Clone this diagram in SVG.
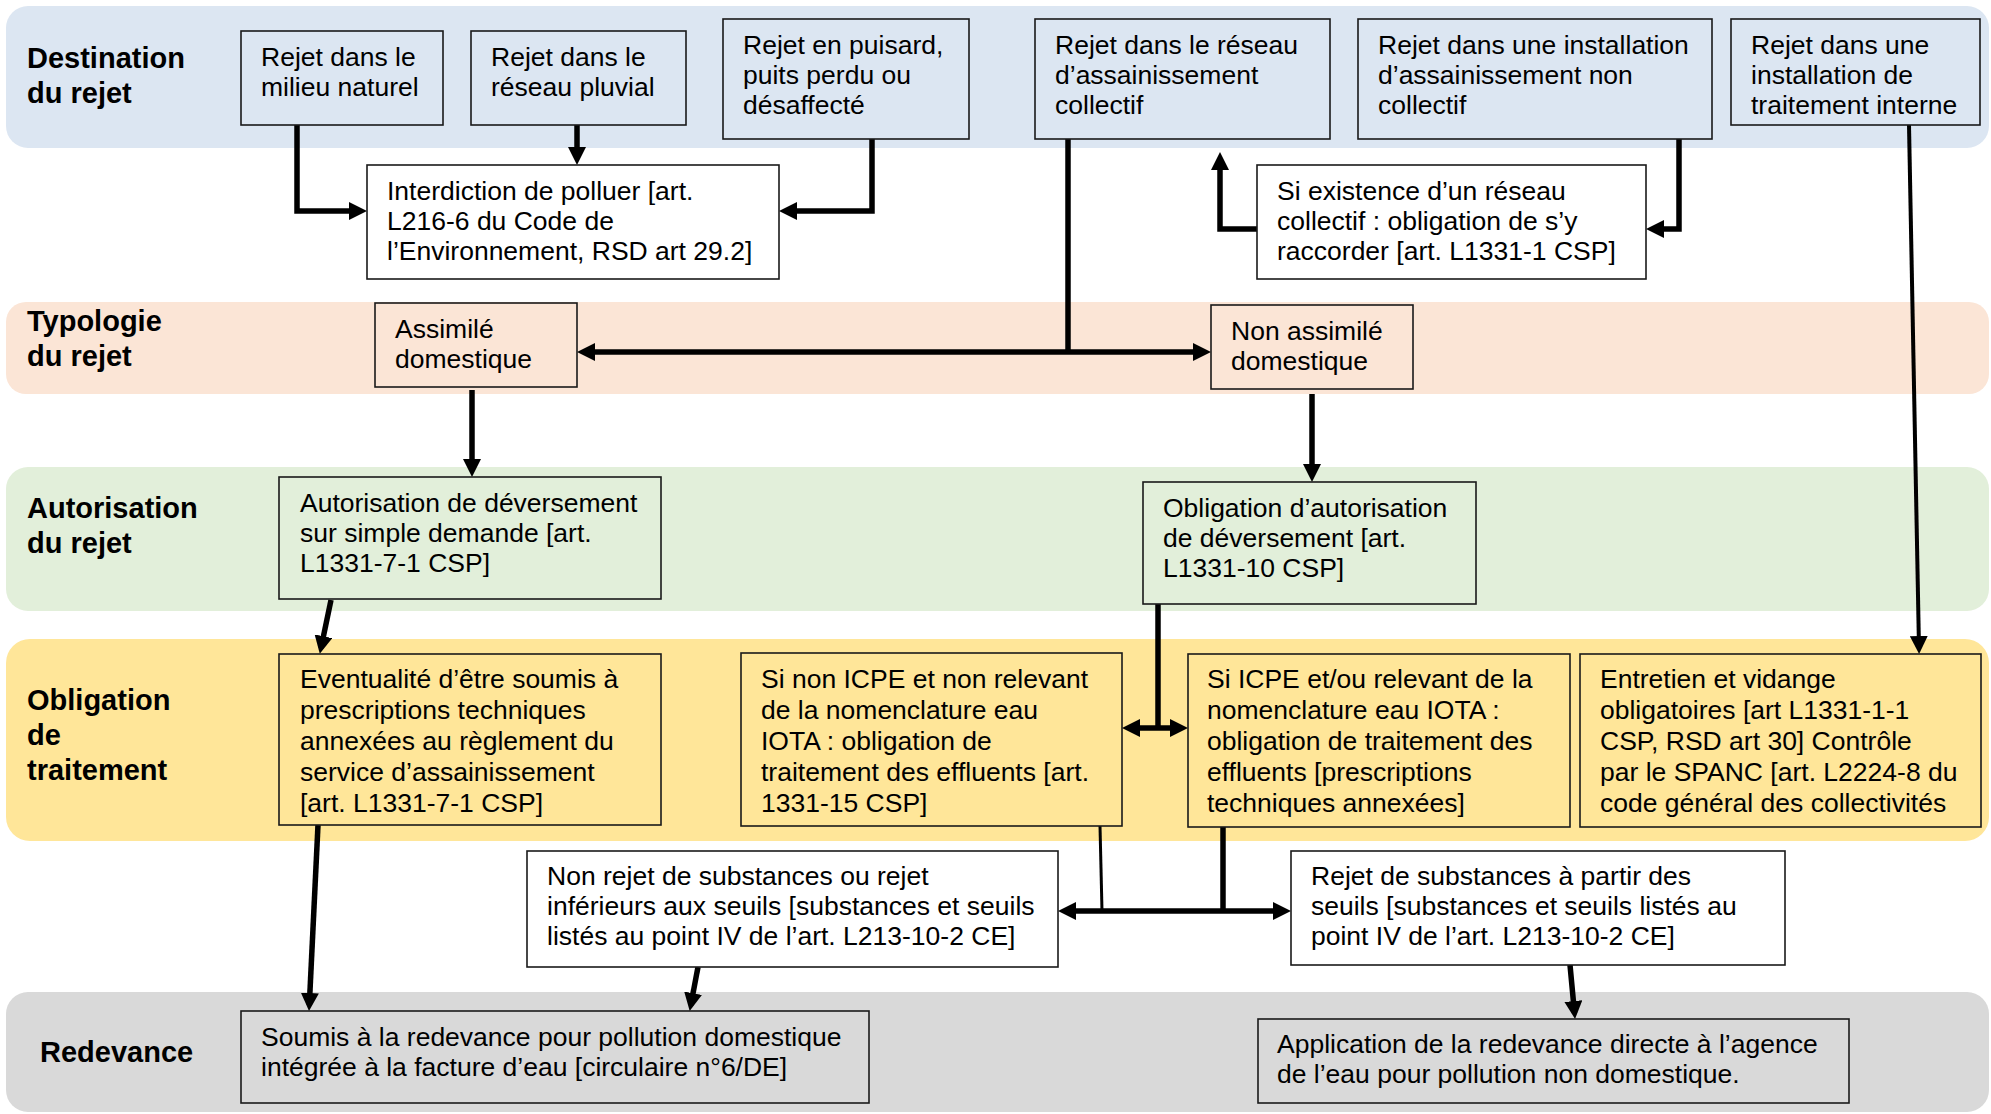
<svg xmlns="http://www.w3.org/2000/svg" width="1991" height="1114" viewBox="0 0 1991 1114">
<defs>
<marker id="ah" markerUnits="userSpaceOnUse" markerWidth="18" markerHeight="18" refX="12" refY="9" orient="auto-start-reverse" viewBox="0 0 18 18">
<path d="M0,0 L18,9 L0,18 z" fill="#000"/>
</marker>
<style>
.band{stroke:none}
.lbl{font-family:"Liberation Sans",Arial,sans-serif;font-weight:bold;font-size:29px;fill:#000}
.txt{font-family:"Liberation Sans",Arial,sans-serif;font-size:26.5px;fill:#000}
.box{stroke:#1a1a1a;stroke-width:1.6}
.blue{fill:#dce6f2}.salmon{fill:#fbe5d6}.green{fill:#e2efda}.yellow{fill:#ffe699}.grey{fill:#d9d9d9}.white{fill:#ffffff}
.c{fill:none;stroke:#000;stroke-width:5.5}
.c2{fill:none;stroke:#000;stroke-width:4}
.c3{fill:none;stroke:#000;stroke-width:3}
.arr{marker-end:url(#ah)}
.arr2{marker-start:url(#ah);marker-end:url(#ah)}
</style>
</defs>
<g id="bands">
<rect class="band blue" x="6" y="6" width="1983" height="142" rx="22"/>
<rect class="band salmon" x="6" y="302" width="1983" height="92" rx="20"/>
<rect class="band green" x="6" y="467" width="1983" height="144" rx="22"/>
<rect class="band yellow" x="6" y="639" width="1983" height="202" rx="24"/>
<rect class="band grey" x="6" y="992" width="1983" height="120" rx="22"/>
</g>
<g id="lane-labels">
<text class="lbl" x="27" y="68">Destination</text>
<text class="lbl" x="27" y="103">du rejet</text>
<text class="lbl" x="27" y="331">Typologie</text>
<text class="lbl" x="27" y="366">du rejet</text>
<text class="lbl" x="27" y="518">Autorisation</text>
<text class="lbl" x="27" y="553">du rejet</text>
<text class="lbl" x="27" y="710">Obligation</text>
<text class="lbl" x="27" y="745">de</text>
<text class="lbl" x="27" y="780">traitement</text>
<text class="lbl" x="40" y="1062">Redevance</text>
</g>
<g id="connectors">
<path class="c arr" d="M297,125 V211 H361"/>
<path class="c arr" d="M577,125 V159"/>
<path class="c arr" d="M872,139 V211 H785"/>
<path class="c arr" d="M1257,229 H1220 V158"/>
<path class="c arr" d="M1679,139 V229 H1652"/>
<path class="c" d="M1068,139 V352"/>
<path class="c arr2" d="M583,352 H1205"/>
<path class="c arr" d="M472,390 V471"/>
<path class="c arr" d="M1312,394 V476"/>
<path class="c arr" d="M331,600 L321,648"/>
<path class="c" d="M1158,604 V728"/>
<path class="c arr2" d="M1128,728 H1182"/>
<path class="c2 arr" d="M1909,125 L1919,648"/>
<path class="c arr" d="M318,825 L309.3,1005"/>
<path class="c3" d="M1100,826 L1102,911"/>
<path class="c" d="M1223,827 V911"/>
<path class="c arr2" d="M1064,911 H1285"/>
<path class="c arr" d="M698,967 L690.8,1005"/>
<path class="c arr" d="M1570,965 L1574.5,1013"/>
</g>
<g id="n-milieu">
<rect class="box blue" x="241" y="31" width="202" height="94"/>
<text class="txt" x="261" y="66">Rejet dans le</text>
<text class="txt" x="261" y="96">milieu naturel</text>
</g>
<g id="n-pluvial">
<rect class="box blue" x="471" y="31" width="215" height="94"/>
<text class="txt" x="491" y="66">Rejet dans le</text>
<text class="txt" x="491" y="96">réseau pluvial</text>
</g>
<g id="n-puisard">
<rect class="box blue" x="723" y="19" width="246" height="120"/>
<text class="txt" x="743" y="54">Rejet en puisard,</text>
<text class="txt" x="743" y="84">puits perdu ou</text>
<text class="txt" x="743" y="114">désaffecté</text>
</g>
<g id="n-collectif">
<rect class="box blue" x="1035" y="19" width="295" height="120"/>
<text class="txt" x="1055" y="54">Rejet dans le réseau</text>
<text class="txt" x="1055" y="84">d’assainissement</text>
<text class="txt" x="1055" y="114">collectif</text>
</g>
<g id="n-noncollectif">
<rect class="box blue" x="1358" y="19" width="354" height="120"/>
<text class="txt" x="1378" y="54">Rejet dans une installation</text>
<text class="txt" x="1378" y="84">d’assainissement non</text>
<text class="txt" x="1378" y="114">collectif</text>
</g>
<g id="n-interne">
<rect class="box blue" x="1731" y="19" width="249" height="106"/>
<text class="txt" x="1751" y="54">Rejet dans une</text>
<text class="txt" x="1751" y="84">installation de</text>
<text class="txt" x="1751" y="114">traitement interne</text>
</g>
<g id="n-interdiction">
<rect class="box white" x="367" y="165" width="412" height="114"/>
<text class="txt" x="387" y="200">Interdiction de polluer [art.</text>
<text class="txt" x="387" y="230">L216-6 du Code de</text>
<text class="txt" x="387" y="260">l’Environnement, RSD art 29.2]</text>
</g>
<g id="n-raccorder">
<rect class="box white" x="1257" y="165" width="389" height="114"/>
<text class="txt" x="1277" y="200">Si existence d’un réseau</text>
<text class="txt" x="1277" y="230">collectif : obligation de s’y</text>
<text class="txt" x="1277" y="260">raccorder [art. L1331-1 CSP]</text>
</g>
<g id="n-assimile">
<rect class="box salmon" x="375" y="303" width="202" height="84"/>
<text class="txt" x="395" y="338">Assimilé</text>
<text class="txt" x="395" y="368">domestique</text>
</g>
<g id="n-nonassimile">
<rect class="box salmon" x="1211" y="305" width="202" height="84"/>
<text class="txt" x="1231" y="340">Non assimilé</text>
<text class="txt" x="1231" y="370">domestique</text>
</g>
<g id="n-autorisation">
<rect class="box green" x="279" y="477" width="382" height="122"/>
<text class="txt" x="300" y="512">Autorisation de déversement</text>
<text class="txt" x="300" y="542">sur simple demande [art.</text>
<text class="txt" x="300" y="572">L1331-7-1 CSP]</text>
</g>
<g id="n-obligation-aut">
<rect class="box green" x="1143" y="482" width="333" height="122"/>
<text class="txt" x="1163" y="517">Obligation d’autorisation</text>
<text class="txt" x="1163" y="547">de déversement [art.</text>
<text class="txt" x="1163" y="577">L1331-10 CSP]</text>
</g>
<g id="n-eventualite">
<rect class="box yellow" x="279" y="654" width="382" height="171"/>
<text class="txt" x="300" y="688">Eventualité d’être soumis à</text>
<text class="txt" x="300" y="719">prescriptions techniques</text>
<text class="txt" x="300" y="750">annexées au règlement du</text>
<text class="txt" x="300" y="781">service d’assainissement</text>
<text class="txt" x="300" y="812">[art. L1331-7-1 CSP]</text>
</g>
<g id="n-nonicpe">
<rect class="box yellow" x="741" y="653" width="381" height="173"/>
<text class="txt" x="761" y="688">Si non ICPE et non relevant</text>
<text class="txt" x="761" y="719">de la nomenclature eau</text>
<text class="txt" x="761" y="750">IOTA : obligation de</text>
<text class="txt" x="761" y="781">traitement des effluents [art.</text>
<text class="txt" x="761" y="812">1331-15 CSP]</text>
</g>
<g id="n-icpe">
<rect class="box yellow" x="1188" y="654" width="382" height="173"/>
<text class="txt" x="1207" y="688">Si ICPE et/ou relevant de la</text>
<text class="txt" x="1207" y="719">nomenclature eau IOTA :</text>
<text class="txt" x="1207" y="750">obligation de traitement des</text>
<text class="txt" x="1207" y="781">effluents [prescriptions</text>
<text class="txt" x="1207" y="812">techniques annexées]</text>
</g>
<g id="n-entretien">
<rect class="box yellow" x="1580" y="654" width="401" height="173"/>
<text class="txt" x="1600" y="688">Entretien et vidange</text>
<text class="txt" x="1600" y="719">obligatoires [art L1331-1-1</text>
<text class="txt" x="1600" y="750">CSP, RSD art 30] Contrôle</text>
<text class="txt" x="1600" y="781">par le SPANC [art. L2224-8 du</text>
<text class="txt" x="1600" y="812">code général des collectivités</text>
</g>
<g id="n-nonrejet">
<rect class="box white" x="527" y="851" width="531" height="116"/>
<text class="txt" x="547" y="885">Non rejet de substances ou rejet</text>
<text class="txt" x="547" y="915">inférieurs aux seuils [substances et seuils</text>
<text class="txt" x="547" y="945">listés au point IV de l’art. L213-10-2 CE]</text>
</g>
<g id="n-rejetsubst">
<rect class="box white" x="1291" y="851" width="494" height="114"/>
<text class="txt" x="1311" y="885">Rejet de substances à partir des</text>
<text class="txt" x="1311" y="915">seuils [substances et seuils listés au</text>
<text class="txt" x="1311" y="945">point IV de l’art. L213-10-2 CE]</text>
</g>
<g id="n-soumis">
<rect class="box grey" x="241" y="1011" width="628" height="92"/>
<text class="txt" x="261" y="1046">Soumis à la redevance pour pollution domestique</text>
<text class="txt" x="261" y="1076">intégrée à la facture d’eau [circulaire n°6/DE]</text>
</g>
<g id="n-application">
<rect class="box grey" x="1258" y="1019" width="591" height="84"/>
<text class="txt" x="1277" y="1053">Application de la redevance directe à l’agence</text>
<text class="txt" x="1277" y="1083">de l’eau pour pollution non domestique.</text>
</g>
</svg>
